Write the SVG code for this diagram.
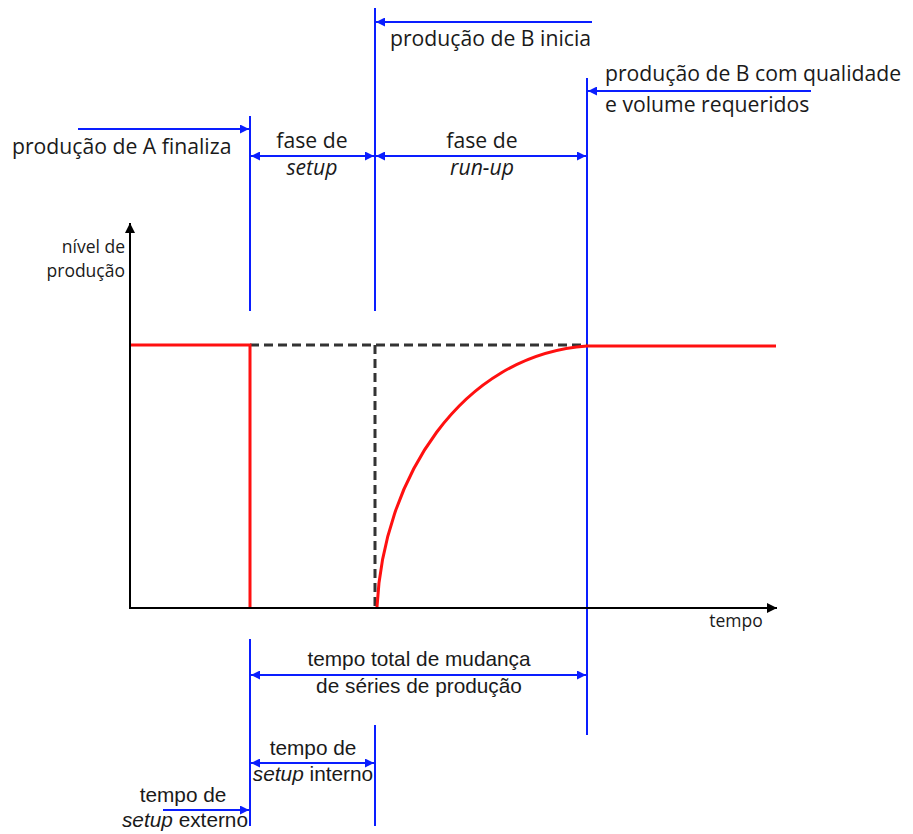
<svg xmlns="http://www.w3.org/2000/svg" width="913" height="834" viewBox="0 0 913 834">
<style>
.bl{stroke:#0a1eff;stroke-width:2;fill:none}
.ax{stroke:#000;stroke-width:2;fill:none}
.rd{stroke:#ff1010;stroke-width:3;fill:none}
.ds{stroke:#333;stroke-width:3;fill:none;stroke-dasharray:9 5}
.t1{font-family:"Open Sans","Liberation Sans",sans-serif;font-size:21.2px;fill:#1a1a1a}
.t2{font-family:"Open Sans","Liberation Sans",sans-serif;font-size:17.5px;fill:#1a1a1a}
.t3{font-family:"Liberation Sans",Arial,sans-serif;font-size:20.8px;fill:#1a1a1a}
.it{font-style:italic}
</style>
<defs>
<marker id="ab" viewBox="0 0 10 10" refX="10" refY="5" markerWidth="4.5" markerHeight="4.5" orient="auto-start-reverse" markerUnits="strokeWidth"><path d="M0,0 L10,5 L0,10 Z" fill="#0a1eff"/></marker>
<marker id="ak" viewBox="0 0 10 10" refX="10" refY="5" markerWidth="5" markerHeight="5" orient="auto" markerUnits="strokeWidth"><path d="M0,0 L10,5 L0,10 Z" fill="#000"/></marker>
</defs>
<g id="connectors">
<line class="bl" x1="250" y1="116" x2="250" y2="311"/>
<line class="bl" x1="250" y1="639" x2="250" y2="826"/>
<line class="bl" x1="375" y1="8" x2="375" y2="311"/>
<line class="bl" x1="375" y1="725" x2="375" y2="826"/>
<line class="bl" x1="587" y1="78" x2="587" y2="735"/>
<line class="bl" x1="78" y1="129" x2="249" y2="129" marker-end="url(#ab)"/>
<line class="bl" x1="592" y1="22" x2="376" y2="22" marker-end="url(#ab)"/>
<line class="bl" x1="811" y1="91" x2="588" y2="91" marker-end="url(#ab)"/>
<line class="bl" x1="251" y1="156" x2="374" y2="156" marker-start="url(#ab)" marker-end="url(#ab)"/>
<line class="bl" x1="376" y1="156" x2="586" y2="156" marker-start="url(#ab)" marker-end="url(#ab)"/>
<line class="bl" x1="251" y1="675" x2="586" y2="675" marker-start="url(#ab)" marker-end="url(#ab)"/>
<line class="bl" x1="251" y1="763" x2="374" y2="763" marker-start="url(#ab)" marker-end="url(#ab)"/>
<line class="bl" x1="163" y1="810" x2="249" y2="810" marker-end="url(#ab)"/>
</g>
<g id="chart">
<line class="ds" x1="250" y1="345" x2="587" y2="345"/>
<line class="ds" x1="375" y1="345" x2="375" y2="608"/>
<polyline class="rd" points="130,345 250,345 250,608"/>
<path class="rd" d="M377,607 C383,480 460,355 587,346 L776,346"/>
<line class="ax" x1="130" y1="608" x2="130" y2="223" marker-end="url(#ak)"/>
<line class="ax" x1="129" y1="608" x2="777" y2="608" marker-end="url(#ak)"/>
<text class="t2" x="125" y="253" text-anchor="end">nível de</text>
<text class="t2" x="125" y="277" text-anchor="end">produção</text>
<text class="t2" x="736" y="627" text-anchor="middle">tempo</text>
</g>
<g id="label-a-finaliza"><text class="t1" x="12" y="154">produção de A finaliza</text></g>
<g id="label-b-inicia"><text class="t1" x="390" y="46">produção de B inicia</text></g>
<g id="label-b-qualidade">
<text class="t1" x="605" y="81">produção de B com qualidade</text>
<text class="t1" x="605" y="112">e volume requeridos</text>
</g>
<g id="label-fase-setup">
<text class="t1" x="312" y="148" text-anchor="middle">fase de</text>
<text class="t1 it" x="312" y="175" text-anchor="middle">setup</text>
</g>
<g id="label-fase-runup">
<text class="t1" x="482" y="148" text-anchor="middle">fase de</text>
<text class="t1 it" x="482" y="175" text-anchor="middle">run-up</text>
</g>
<g id="label-tempo-total">
<text class="t3" x="419" y="666" text-anchor="middle">tempo total de mudança</text>
<text class="t3" x="419" y="693" text-anchor="middle">de séries de produção</text>
</g>
<g id="label-setup-interno">
<text class="t3" x="313" y="755" text-anchor="middle">tempo de</text>
<text class="t3" x="313" y="781" text-anchor="middle"><tspan class="it">setup</tspan> interno</text>
</g>
<g id="label-setup-externo">
<text class="t3" x="183" y="802" text-anchor="middle">tempo de</text>
<text class="t3" x="185" y="827" text-anchor="middle"><tspan class="it">setup</tspan> externo</text>
</g>
</svg>
